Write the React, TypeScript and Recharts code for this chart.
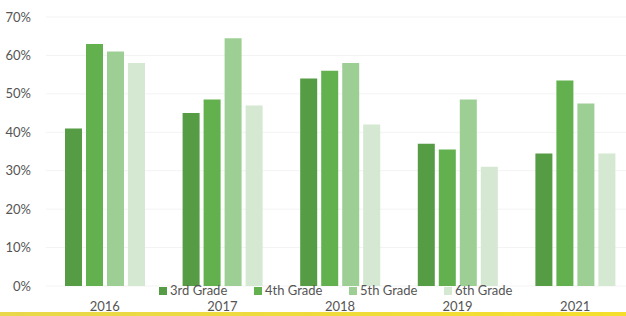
import { BarChart, Bar, XAxis, YAxis, CartesianGrid } from "recharts"

const years = ["2016", "2017", "2018", "2019", "2021"]
const grade3 = [41, 45, 54, 37, 34.5]
const grade4 = [63, 48.5, 56, 35.5, 53.5]
const grade5 = [61, 64.5, 58, 48.5, 47.5]
const grade6 = [58, 47, 42, 31, 34.5]
const yTicks = [0, 10, 20, 30, 40, 50, 60, 70]

const series = [
  { key: "g3", name: "3rd Grade", color: "#559c44" },
  { key: "g4", name: "4th Grade", color: "#62b04e" },
  { key: "g5", name: "5th Grade", color: "#9dcf95" },
  { key: "g6", name: "6th Grade", color: "#d5e8d1" },
]

const data = years.map((year, i) => ({
  year,
  g3: grade3[i],
  g4: grade4[i],
  g5: grade5[i],
  g6: grade6[i],
}))

const font = "Lato, 'Open Sans', sans-serif"

// legend sits just above the year labels, like in the original
function LegendRow() {
  return (
    <div
      style={{
        position: "absolute",
        left: 159,
        top: 283,
        display: "flex",
        fontFamily: font,
        fontSize: 13,
        color: "#555",
        lineHeight: "15px",
      }}
    >
      {series.map((s) => (
        <div key={s.key} style={{ width: 95, display: "flex", alignItems: "center" }}>
          <span style={{ width: 8, height: 8, background: s.color, marginRight: 3, display: "inline-block" }} />
          <span>{s.name}</span>
        </div>
      ))}
    </div>
  )
}

export default function App() {
  return (
    <div style={{ position: "fixed", left: 0, top: 0, width: 626, height: 316, overflow: "hidden", background: "#fff" }}>
      <BarChart
        width={626}
        height={316}
        data={data}
        margin={{ top: 17, right: -8, left: 0, bottom: 0 }}
        barSize={17}
        barGap={4}
      >
        <CartesianGrid vertical={false} stroke="#f3f3f3" />
        <XAxis
          dataKey="year"
          axisLine={false}
          tickLine={false}
          height={30}
          tickMargin={10}
          tick={{ fill: "#555", fontSize: 13, fontFamily: font }}
        />
        <YAxis
          width={46}
          domain={[0, 70]}
          ticks={yTicks}
          axisLine={false}
          tickLine={false}
          tickMargin={9}
          tickFormatter={(v) => `${v}%`}
          tick={{ fill: "#555", fontSize: 13, fontFamily: font }}
        />
        {series.map((s) => (
          <Bar key={s.key} dataKey={s.key} name={s.name} fill={s.color} isAnimationActive={false} />
        ))}
      </BarChart>
      <LegendRow />
      <div
        style={{
          position: "absolute",
          left: 0,
          top: 312,
          width: 626,
          height: 4,
          background: "linear-gradient(to right, #e8d84a, #f5df2c)",
        }}
      />
    </div>
  )
}
